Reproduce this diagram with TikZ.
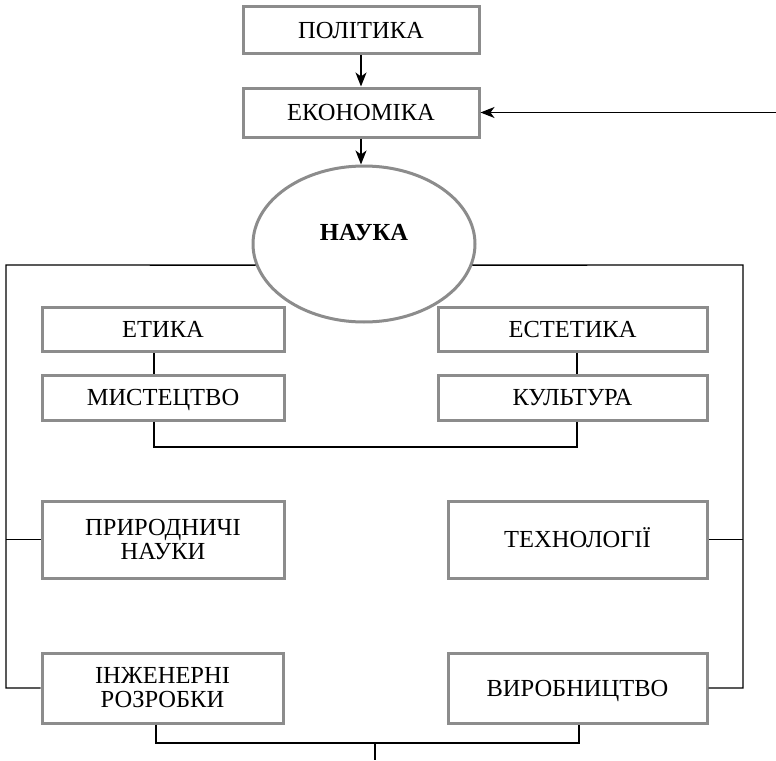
\documentclass[tikz,border=0pt]{standalone}
\usepackage{fontspec}
\setmainfont{Liberation Serif}
\usetikzlibrary{arrows.meta,shapes.geometric}
\begin{document}
\begin{tikzpicture}[x=1pt,y=-1pt,
  box/.style={draw=black!45,line width=3pt,fill=white,rectangle,inner sep=0pt,align=center,
    font=\fontsize{24.5}{24}\selectfont},
  onebox/.style={box,text height=16.5pt,text depth=0pt},
  conn/.style={draw=black,line width=1.4pt},
  arr/.style={conn,-{Stealth[length=14pt,width=11pt,inset=4pt]}}]
\useasboundingbox (0,0) rectangle (776,760);
\node[onebox,minimum width=236pt,minimum height=47pt] (pol) at (361,30.5) {ПОЛІТИКА};
\node[onebox,minimum width=236pt,minimum height=49pt] (eko) at (361,112.5) {ЕКОНОМІКА};
\node[draw=black!45,line width=3pt,fill=white,ellipse,inner sep=0pt,minimum width=222pt,minimum height=156pt,
  font=\fontsize{24.5}{24}\selectfont\bfseries] (nauka) at (364,244) {\raisebox{24pt}{НАУКА}};
\node[onebox,minimum width=242pt,minimum height=44pt] (etyka) at (163,329.5) {ЕТИКА};
\node[onebox,minimum width=242pt,minimum height=45pt] (myst) at (163,397.5) {МИСТЕЦТВО};
\node[onebox,minimum width=269pt,minimum height=44pt] (est) at (572.5,329.5) {ЕСТЕТИКА};
\node[onebox,minimum width=269pt,minimum height=45pt] (kult) at (572.5,397.5) {КУЛЬТУРА};
\node[box,minimum width=242pt,minimum height=77pt] (pryr) at (163,539.5) {ПРИРОДНИЧІ\\НАУКИ};
\node[onebox,minimum width=259pt,minimum height=77pt] (tech) at (577.5,539.5) {ТЕХНОЛОГІЇ};
\node[box,minimum width=241pt,minimum height=70pt] (inzh) at (162.5,688) {ІНЖЕНЕРНІ\\РОЗРОБКИ};
\node[onebox,minimum width=259pt,minimum height=70pt] (vyr) at (577.5,688) {ВИРОБНИЦТВО};
% arrows
\draw[arr] (pol.south) -- (eko.north);
\draw[arr] (eko.south) -- (eko.south |- nauka.north);
\coordinate (rin) at (776,112.5);
\draw[arr] (rin) -- (eko.east);
% outer frame
\coordinate (fl) at (6,265);
\coordinate (fr) at (743,265);
\draw[conn] (nauka.191) -- (fl) |- (inzh.west);
\draw[conn] (fl |- pryr.west) -- (pryr.west);
\draw[conn] (nauka.349) -- (fr) |- (vyr.east);
\draw[conn] (fr |- tech.east) -- (tech.east);
% inner pairs
\coordinate (ml) at ([xshift=-9pt]myst.north);
\coordinate (kr) at ([xshift=4.5pt]kult.north);
\coordinate (msb) at ([xshift=-9pt]myst.south);
\coordinate (ksb) at ([xshift=4.5pt]kult.south);
\draw[conn] ([xshift=-9pt]etyka.south) -- (ml);
\draw[conn] ([xshift=4.5pt]est.south) -- (kr);
\coordinate (b1) at (154,447);
\coordinate (b1r) at (577,447);
\draw[conn] (msb) -- (b1) -- (b1r) -- (ksb);
% bottom bracket
\coordinate (isb) at ([xshift=-6.5pt]inzh.south);
\coordinate (vsb) at ([xshift=1.5pt]vyr.south);
\coordinate (b2) at (156,743);
\coordinate (b3) at (579,743);
\coordinate (bm) at (375,743);
\coordinate (bend) at (375,760);
\draw[conn] (isb) -- (b2) -- (b3) -- (vsb);
\draw[conn] (bm) -- (bend);
\end{tikzpicture}
\end{document}
